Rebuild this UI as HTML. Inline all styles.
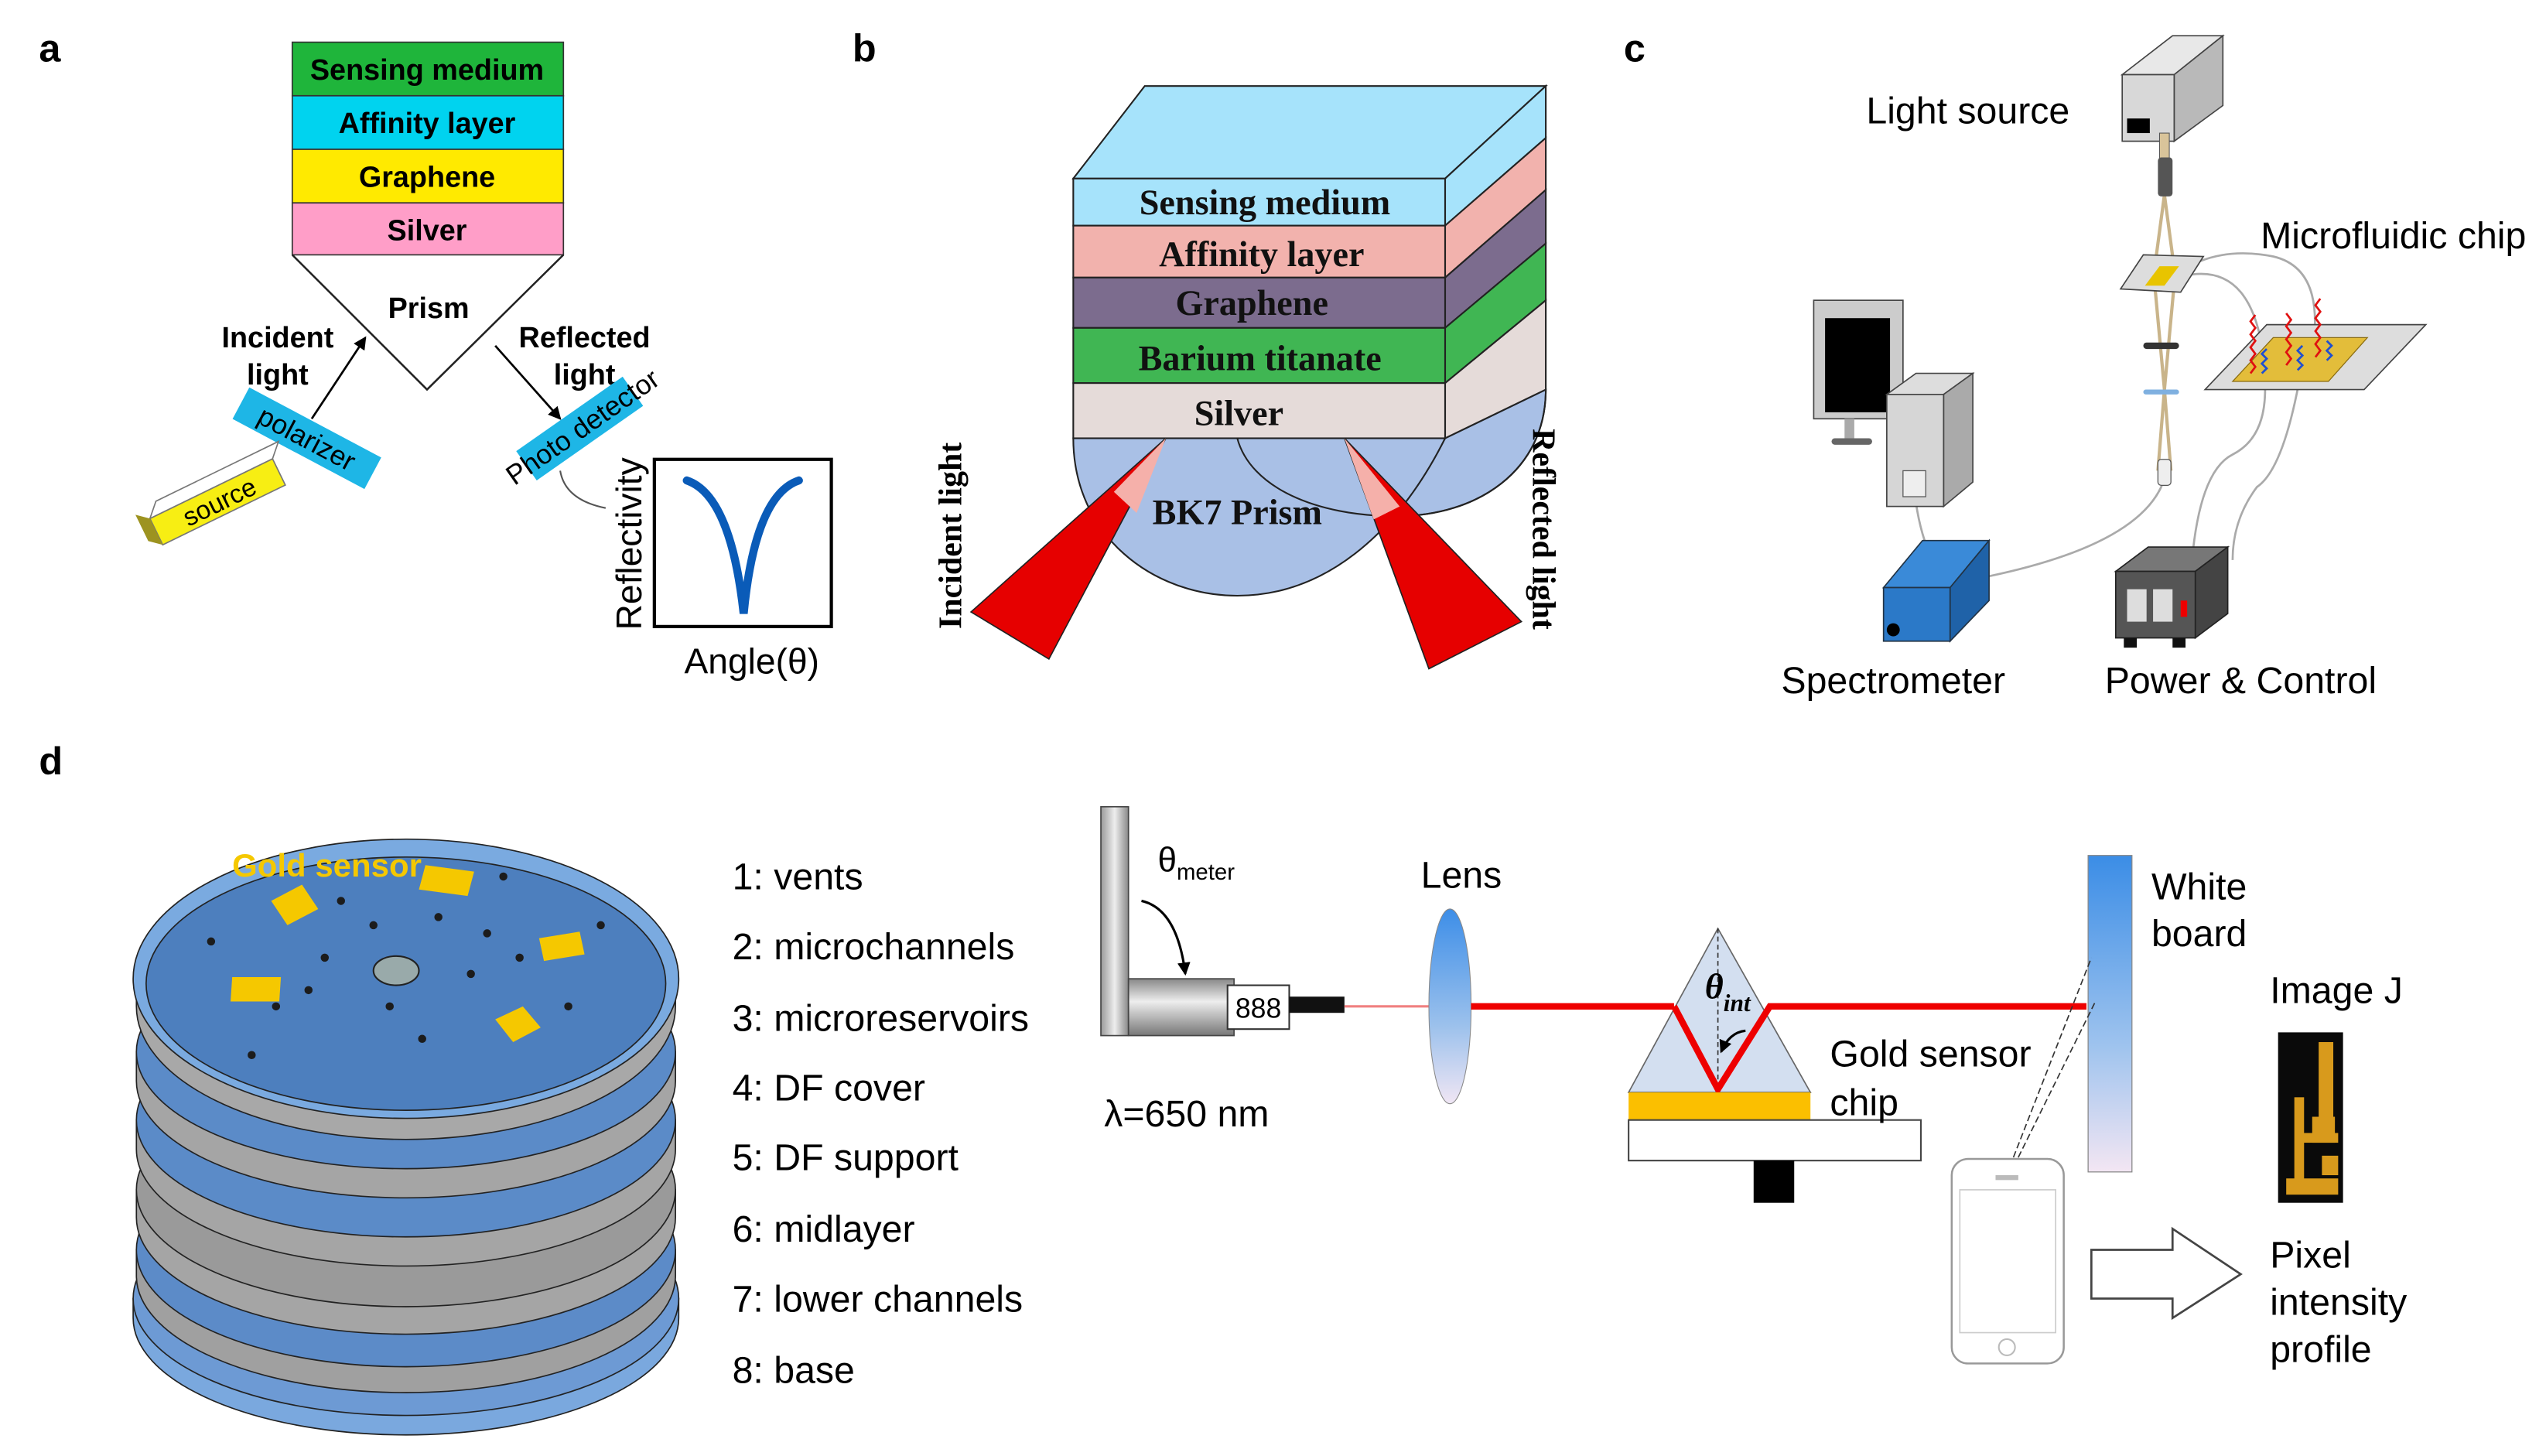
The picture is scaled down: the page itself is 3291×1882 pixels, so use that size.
<!DOCTYPE html>
<html><head><meta charset="utf-8"><style>
html,body{margin:0;padding:0;background:#fff;}
svg{display:block;}
.s{font-family:"Liberation Sans",Arial,sans-serif;}
.r{font-family:"Liberation Serif","Times New Roman",serif;font-weight:bold;}
</style></head><body>
<svg width="3291" height="1882" viewBox="0 0 1568 897" preserveAspectRatio="none" xmlns="http://www.w3.org/2000/svg">
<defs>
<linearGradient id="lens" x1="0" y1="0" x2="0" y2="1"><stop offset="0" stop-color="#3d8ee8"/><stop offset="0.6" stop-color="#9cc1ec"/><stop offset="1" stop-color="#f0e6f4"/></linearGradient>
<linearGradient id="board" x1="0" y1="0" x2="0" y2="1"><stop offset="0" stop-color="#3b8de6"/><stop offset="0.6" stop-color="#9ec3ee"/><stop offset="1" stop-color="#f3e6f3"/></linearGradient>
<linearGradient id="metal" x1="0" y1="0" x2="0" y2="1"><stop offset="0" stop-color="#888"/><stop offset="0.4" stop-color="#eee"/><stop offset="1" stop-color="#777"/></linearGradient>
<linearGradient id="metalv" x1="0" y1="0" x2="1" y2="0"><stop offset="0" stop-color="#999"/><stop offset="0.5" stop-color="#eee"/><stop offset="1" stop-color="#888"/></linearGradient>
<marker id="ah" markerWidth="8" markerHeight="8" refX="7" refY="4" orient="auto" markerUnits="userSpaceOnUse"><path d="M0,0 L8,4 L0,8 z" fill="#000"/></marker>
</defs>

<!-- ===== Panel a ===== -->
<text x="24" y="38" class="s" font-size="24" font-weight="bold">a</text>
<g stroke="#333" stroke-width="0.8">
<rect x="180" y="26" width="167" height="33" fill="#1fb53b"/>
<rect x="180" y="59" width="167" height="33" fill="#00d3ef"/>
<rect x="180" y="92" width="167" height="33" fill="#ffea00"/>
<rect x="180" y="125" width="167" height="32" fill="#ff9ec8"/>
</g>
<g class="s" font-weight="bold" font-size="18" text-anchor="middle">
<text x="263" y="49">Sensing medium</text>
<text x="263" y="82">Affinity layer</text>
<text x="263" y="115">Graphene</text>
<text x="263" y="148">Silver</text>
<text x="264" y="196">Prism</text>
<text x="171" y="214">Incident</text>
<text x="171" y="237">light</text>
<text x="360" y="214">Reflected</text>
<text x="360" y="237">light</text>
</g>
<path d="M180,157 L263,240 L347,157" fill="none" stroke="#222" stroke-width="1.2"/>
<line x1="192" y1="258" x2="225" y2="208" stroke="#000" stroke-width="1.3" marker-end="url(#ah)"/>
<line x1="305" y1="213" x2="345" y2="258" stroke="#000" stroke-width="1.3" marker-end="url(#ah)"/>
<g transform="translate(189,270) rotate(28)">
<rect x="-46" y="-11" width="92" height="22" fill="#1eb6e6"/>
<text x="0" y="6" class="s" font-size="17" text-anchor="middle">polarizer</text>
</g>
<g transform="translate(130,310) rotate(-26)">
<rect x="-38" y="-8" width="84" height="18" fill="#f7ee13" stroke="#777" stroke-width="0.8"/>
<path d="M-38,-8 L-30,-16 L54,-16 L46,-8 z" fill="#fff" stroke="#777" stroke-width="0.8"/>
<path d="M-38,-8 L-38,10 L-45,4 L-45,-14 z" fill="#9d9320"/>
<text x="5" y="7" class="s" font-size="16" text-anchor="middle">source</text>
</g>
<g transform="translate(357,264) rotate(-35)">
<rect x="-40" y="-11" width="80" height="22" fill="#1eb6e6"/>
<text x="2" y="6" class="s" font-size="17" text-anchor="middle">Photo detector</text>
</g>
<path d="M345,290 Q348,308 373,313" fill="none" stroke="#555" stroke-width="1"/>
<rect x="403" y="283" width="109" height="103" fill="#fff" stroke="#000" stroke-width="2"/>
<path d="M423,296 Q450,305 458,378 Q465,305 492,296" fill="none" stroke="#0a5bb8" stroke-width="5" stroke-linecap="round"/>
<text transform="translate(395,335) rotate(-90)" class="s" font-size="22" text-anchor="middle">Reflectivity</text>
<text x="463" y="415" class="s" font-size="22" text-anchor="middle">Angle(θ)</text>

<!-- ===== Panel b ===== -->
<text x="525" y="38" class="s" font-size="24" font-weight="bold">b</text>
<path d="M762,270 C770,300 810,318 860,318 C910,318 952,290 952,240 L890,270 z" fill="#a9c0e6" stroke="#222" stroke-width="1"/>
<path d="M661,270 C661,330 710,367 762,367 C815,367 860,330 890,270 z" fill="#a9c0e6" stroke="#222" stroke-width="1"/>
<path d="M762,270 C770,300 810,318 860,318 C910,318 952,290 952,240" fill="none" stroke="#222" stroke-width="1"/>
<g stroke="#222" stroke-width="1">
<path d="M661,110 L705,53 L952,53 L890,110 z" fill="#a6e3fb"/>
<path d="M890,110 L952,53 L952,85 L890,139 z" fill="#a6e3fb"/>
<path d="M890,139 L952,85 L952,117 L890,171 z" fill="#f2b2ad"/>
<path d="M890,171 L952,117 L952,150 L890,202 z" fill="#7c6c8e"/>
<path d="M890,202 L952,150 L952,185 L890,236 z" fill="#40b653"/>
<path d="M890,236 L952,185 L952,240 L890,270 z" fill="#e5dbd9"/>
<rect x="661" y="110" width="229" height="29" fill="#a6e3fb"/>
<rect x="661" y="139" width="229" height="32" fill="#f2b2ad"/>
<rect x="661" y="171" width="229" height="31" fill="#7c6c8e"/>
<rect x="661" y="202" width="229" height="34" fill="#40b653"/>
<rect x="661" y="236" width="229" height="34" fill="#e5dbd9"/>
</g>
<g class="r" font-size="22" text-anchor="middle" fill="#111">
<text x="779" y="132">Sensing medium</text>
<text x="777" y="164">Affinity layer</text>
<text x="771" y="194">Graphene</text>
<text x="776" y="228">Barium titanate</text>
<text x="763" y="262">Silver</text>
<text x="762" y="323">BK7 Prism</text>
</g>
<polygon points="718,270 598,377 646,406" fill="#e60000" stroke="#222" stroke-width="0.8"/>
<polygon points="718,270 686,303 700,316" fill="#f5b0aa"/>
<polygon points="828,270 880,412 937,383" fill="#e60000" stroke="#222" stroke-width="0.8"/>
<polygon points="828,270 846,320 862,312" fill="#f5b0aa"/>
<text transform="translate(592,330) rotate(-90)" class="r" font-size="20" text-anchor="middle">Incident light</text>
<text transform="translate(944,326) rotate(90)" class="r" font-size="20" text-anchor="middle">Reflected light</text>

<!-- ===== Panel c ===== -->
<text x="1000" y="38" class="s" font-size="24" font-weight="bold">c</text>
<text x="1212" y="76" class="s" font-size="23" text-anchor="middle">Light source</text>
<text x="1474" y="153" class="s" font-size="23" text-anchor="middle">Microfluidic chip</text>
<text x="1166" y="427" class="s" font-size="23" text-anchor="middle">Spectrometer</text>
<text x="1380" y="427" class="s" font-size="23" text-anchor="middle">Power &amp; Control</text>
<g fill="none" stroke="#aaa" stroke-width="1.3">
<path d="M1333,175 Q1360,150 1400,158 Q1430,165 1425,210"/>
<path d="M1345,170 Q1390,160 1395,230"/>
<path d="M1333,295 Q1320,335 1225,355"/>
<path d="M1180,310 Q1183,330 1190,345"/>
<path d="M1395,240 Q1395,270 1375,280 Q1355,290 1350,345"/>
<path d="M1415,240 Q1405,290 1390,300 Q1375,320 1375,345"/>
</g>
<path d="M1307,46 L1338,22 L1369,22 L1339,46 z" fill="#e8e8e8" stroke="#444" stroke-width="0.8"/>
<path d="M1339,46 L1369,22 L1369,65 L1339,87 z" fill="#b9b9b9" stroke="#444" stroke-width="0.8"/>
<rect x="1307" y="46" width="32" height="41" fill="#d8d8d8" stroke="#444" stroke-width="0.8"/>
<rect x="1310" y="73" width="14" height="9" fill="#000"/>
<path d="M1333,87 L1333,100 M1333,120 L1327,165 M1333,120 L1339,165 M1327,175 L1333,240 M1339,175 L1333,240 M1333,240 L1329,290 M1333,240 L1337,290" stroke="#c9b48a" stroke-width="2" fill="none"/>
<rect x="1330" y="82" width="6" height="20" fill="#d9c49a" stroke="#555" stroke-width="0.5"/>
<rect x="1329" y="97" width="9" height="24" rx="2" fill="#555"/>
<rect x="1329" y="283" width="8" height="16" rx="2" fill="#eee" stroke="#555" stroke-width="0.6"/>
<rect x="1320" y="211" width="22" height="4" rx="2" fill="#333"/>
<rect x="1320" y="240" width="22" height="3" rx="1.5" fill="#7fb0e0"/>
<path d="M1306,178 L1320,157 L1357,158 L1343,180 z" fill="#ddd" stroke="#444" stroke-width="0.8"/>
<path d="M1321,176 L1330,164 L1342,164 L1333,176 z" fill="#e8c400"/>
<path d="M1358,240 L1396,200 L1494,200 L1456,240 z" fill="#ddd" stroke="#444" stroke-width="0.8"/>
<path d="M1375,235 L1400,208 L1458,208 L1434,235 z" fill="#e3bd3a" stroke="#8a6c10" stroke-width="0.6"/>
<g fill="none" stroke-width="1.3">
<path d="M1386,230 l3,-4 l-3,-4 l3,-4 l-3,-4 l3,-4 l-3,-4 l3,-4 l-3,-4 l3,-4" stroke="#e01010"/>
<path d="M1408,225 l3,-4 l-3,-4 l3,-4 l-3,-4 l3,-4 l-3,-4 l3,-4 l-3,-4" stroke="#e01010"/>
<path d="M1426,220 l3,-4 l-3,-4 l3,-4 l-3,-4 l3,-4 l-3,-4 l3,-4 l-3,-4 l3,-4" stroke="#e01010"/>
<path d="M1393,230 l3,-3 l-3,-3 l3,-3 l-3,-3 l3,-3" stroke="#2050d0"/>
<path d="M1415,228 l3,-3 l-3,-3 l3,-3 l-3,-3 l3,-3" stroke="#2050d0"/>
<path d="M1433,222 l3,-3 l-3,-3 l3,-3 l-3,-3" stroke="#2050d0"/>
</g>
<rect x="1117" y="185" width="55" height="73" fill="#ccc" stroke="#444" stroke-width="0.8"/>
<rect x="1124" y="196" width="40" height="58" fill="#000"/>
<rect x="1136" y="258" width="6" height="14" fill="#aaa"/>
<rect x="1128" y="270" width="25" height="4" rx="2" fill="#666"/>
<path d="M1162,243 L1180,230 L1215,230 L1197,243 z" fill="#ddd" stroke="#444" stroke-width="0.8"/>
<path d="M1197,243 L1215,230 L1215,297 L1197,312 z" fill="#aaa" stroke="#444" stroke-width="0.8"/>
<rect x="1162" y="243" width="35" height="69" fill="#d6d6d6" stroke="#444" stroke-width="0.8"/>
<rect x="1172" y="290" width="14" height="16" fill="#eee" stroke="#555" stroke-width="0.6"/>
<path d="M1160,362 L1184,333 L1225,333 L1201,362 z" fill="#3a8ad8" stroke="#234" stroke-width="0.8"/>
<path d="M1201,362 L1225,333 L1225,370 L1201,395 z" fill="#1f62a8" stroke="#234" stroke-width="0.8"/>
<rect x="1160" y="362" width="41" height="33" fill="#2b79c8" stroke="#234" stroke-width="0.8"/>
<circle cx="1166" cy="388" r="4" fill="#000"/>
<path d="M1303,352 L1323,337 L1372,337 L1352,352 z" fill="#777" stroke="#222" stroke-width="0.8"/>
<path d="M1352,352 L1372,337 L1372,378 L1352,393 z" fill="#444" stroke="#222" stroke-width="0.8"/>
<rect x="1303" y="352" width="49" height="41" fill="#555" stroke="#222" stroke-width="0.8"/>
<rect x="1310" y="363" width="12" height="20" fill="#ddd"/>
<rect x="1326" y="363" width="12" height="20" fill="#ddd"/>
<rect x="1343" y="370" width="4" height="10" fill="#e00"/>
<rect x="1308" y="393" width="8" height="6" fill="#111"/>
<rect x="1338" y="393" width="8" height="6" fill="#111"/>

<!-- ===== Panel d ===== -->
<text x="24" y="477" class="s" font-size="24" font-weight="bold">d</text>
<g stroke="#222" stroke-width="0.8">
<path d="M82,800 L82,812 A168,72 0 0 0 418,812 L418,800 z" fill="#7aa8de"/>
<ellipse cx="250" cy="800" rx="168" ry="72" fill="#6d9ad4"/>
<path d="M84,770 L84,786 A166,72 0 0 0 416,786 L416,770 z" fill="#a0a0a0"/>
<ellipse cx="250" cy="770" rx="166" ry="72" fill="#5c8bc8"/>
<path d="M84,733 L84,750 A166,72 0 0 0 416,750 L416,733 z" fill="#a5a5a5"/>
<ellipse cx="250" cy="733" rx="166" ry="72" fill="#9a9a9a"/>
<path d="M84,690 L84,708 A166,72 0 0 0 416,708 L416,690 z" fill="#a5a5a5"/>
<ellipse cx="250" cy="690" rx="166" ry="72" fill="#5b8bc8"/>
<path d="M84,648 L84,666 A166,72 0 0 0 416,666 L416,648 z" fill="#a5a5a5"/>
<ellipse cx="250" cy="648" rx="166" ry="72" fill="#5b8bc8"/>
<path d="M84,603 L84,620 A166,82 0 0 0 416,620 L416,603 z" fill="#a8a8a8"/>
<ellipse cx="250" cy="603" rx="168" ry="86" fill="#7aaae0"/>
<ellipse cx="250" cy="606" rx="160" ry="78" fill="#4d7fbe"/>
</g>
<g fill="#1c1c1c">
<circle cx="210" cy="555" r="2.5"/><circle cx="230" cy="570" r="2.5"/><circle cx="270" cy="565" r="2.5"/><circle cx="300" cy="575" r="2.5"/>
<circle cx="200" cy="590" r="2.5"/><circle cx="290" cy="600" r="2.5"/><circle cx="240" cy="620" r="2.5"/><circle cx="190" cy="610" r="2.5"/>
<circle cx="320" cy="590" r="2.5"/><circle cx="170" cy="620" r="2.5"/><circle cx="350" cy="620" r="2.5"/><circle cx="130" cy="580" r="2.5"/>
<circle cx="370" cy="570" r="2.5"/><circle cx="260" cy="640" r="2.5"/><circle cx="155" cy="650" r="2.5"/><circle cx="310" cy="540" r="2.5"/>
</g>
<ellipse cx="244" cy="598" rx="14" ry="9" fill="#9aa" stroke="#222" stroke-width="1"/>
<g fill="#f5c800">
<polygon points="167,555 186,545 196,560 177,570"/>
<polygon points="262,533 292,537 288,552 258,548"/>
<polygon points="332,578 357,574 360,588 335,592"/>
<polygon points="143,602 173,602 172,617 142,617"/>
<polygon points="305,628 322,620 333,633 316,642"/>
</g>
<text x="143" y="540" class="s" font-size="20" font-weight="bold" fill="#f5c800">Gold sensor</text>
<g class="s" font-size="23">
<text x="451" y="548">1: vents</text>
<text x="451" y="591">2: microchannels</text>
<text x="451" y="635">3: microreservoirs</text>
<text x="451" y="678">4: DF cover</text>
<text x="451" y="721">5: DF support</text>
<text x="451" y="765">6: midlayer</text>
<text x="451" y="808">7: lower channels</text>
<text x="451" y="852">8: base</text>
</g>
<rect x="678" y="497" width="17" height="141" fill="url(#metalv)" stroke="#444" stroke-width="0.8"/>
<rect x="695" y="603" width="65" height="35" fill="url(#metal)" stroke="#444" stroke-width="0.8"/>
<rect x="756" y="607" width="38" height="27" fill="#fff" stroke="#333" stroke-width="1"/>
<text x="775" y="627" class="s" font-size="17" text-anchor="middle">888</text>
<rect x="794" y="614" width="34" height="10" fill="#111"/>
<path d="M703,555 Q725,560 730,600" fill="none" stroke="#000" stroke-width="1.5" marker-end="url(#ah)"/>
<text x="713" y="537" class="s" font-size="21">θ<tspan font-size="14" dy="5">meter</tspan></text>
<text x="680" y="694" class="s" font-size="23">λ=650 nm</text>
<line x1="828" y1="620" x2="893" y2="620" stroke="#f08080" stroke-width="1.5"/>
<ellipse cx="893" cy="620" rx="13" ry="60" fill="url(#lens)" stroke="#888" stroke-width="0.5"/>
<text x="900" y="547" class="s" font-size="23" text-anchor="middle">Lens</text>
<line x1="906" y1="620" x2="1031" y2="620" stroke="#ee0000" stroke-width="4"/>
<polygon points="1058,572 1003,673 1115,673" fill="#d3dff0" stroke="#666" stroke-width="0.8"/>
<line x1="1058" y1="572" x2="1058" y2="672" stroke="#333" stroke-width="0.8" stroke-dasharray="3,2"/>
<polyline points="1031,620 1058,671 1090,620 1285,620" fill="none" stroke="#ee0000" stroke-width="4"/>
<path d="M1075,635 Q1065,636 1060,648" fill="none" stroke="#000" stroke-width="1.5" marker-end="url(#ah)"/>
<text x="1050" y="615" class="r" font-size="22" font-style="italic" font-weight="normal">θ<tspan font-size="15" dy="8">int</tspan></text>
<rect x="1003" y="673" width="112" height="17" fill="#fbbf00"/>
<rect x="1003" y="690" width="180" height="25" fill="#fff" stroke="#444" stroke-width="1"/>
<rect x="1080" y="715" width="25" height="26" fill="#000"/>
<text x="1127" y="657" class="s" font-size="23">Gold sensor</text>
<text x="1127" y="687" class="s" font-size="23">chip</text>
<rect x="1286" y="527" width="27" height="195" fill="url(#board)" stroke="#888" stroke-width="0.6"/>
<text x="1325" y="554" class="s" font-size="23">White</text>
<text x="1325" y="583" class="s" font-size="23">board</text>
<line x1="1240" y1="713" x2="1288" y2="590" stroke="#333" stroke-width="0.8" stroke-dasharray="4,2"/>
<line x1="1243" y1="713" x2="1290" y2="618" stroke="#333" stroke-width="0.8" stroke-dasharray="4,2"/>
<rect x="1202" y="714" width="69" height="126" rx="10" fill="#fff" stroke="#999" stroke-width="1.2"/>
<rect x="1207" y="733" width="59" height="88" fill="none" stroke="#ccc" stroke-width="0.8"/>
<rect x="1229" y="724" width="14" height="3" fill="#bbb"/>
<circle cx="1236" cy="830" r="5" fill="none" stroke="#bbb"/>
<path d="M1288,770 L1338,770 L1338,757 L1380,785 L1338,812 L1338,800 L1288,800 z" fill="#fff" stroke="#444" stroke-width="1.3"/>
<text x="1398" y="618" class="s" font-size="23">Image J</text>
<rect x="1403" y="636" width="40" height="105" fill="#0a0a0a"/>
<g fill="#d89a1c">
<rect x="1428" y="642" width="9" height="50"/>
<rect x="1413" y="676" width="6" height="52"/>
<rect x="1408" y="726" width="32" height="10"/>
<rect x="1416" y="698" width="24" height="6"/>
<rect x="1424" y="688" width="14" height="16"/>
<rect x="1430" y="712" width="10" height="12"/>
</g>
<text x="1398" y="781" class="s" font-size="23">Pixel</text>
<text x="1398" y="810" class="s" font-size="23">intensity</text>
<text x="1398" y="839" class="s" font-size="23">profile</text>
</svg>
</body></html>
